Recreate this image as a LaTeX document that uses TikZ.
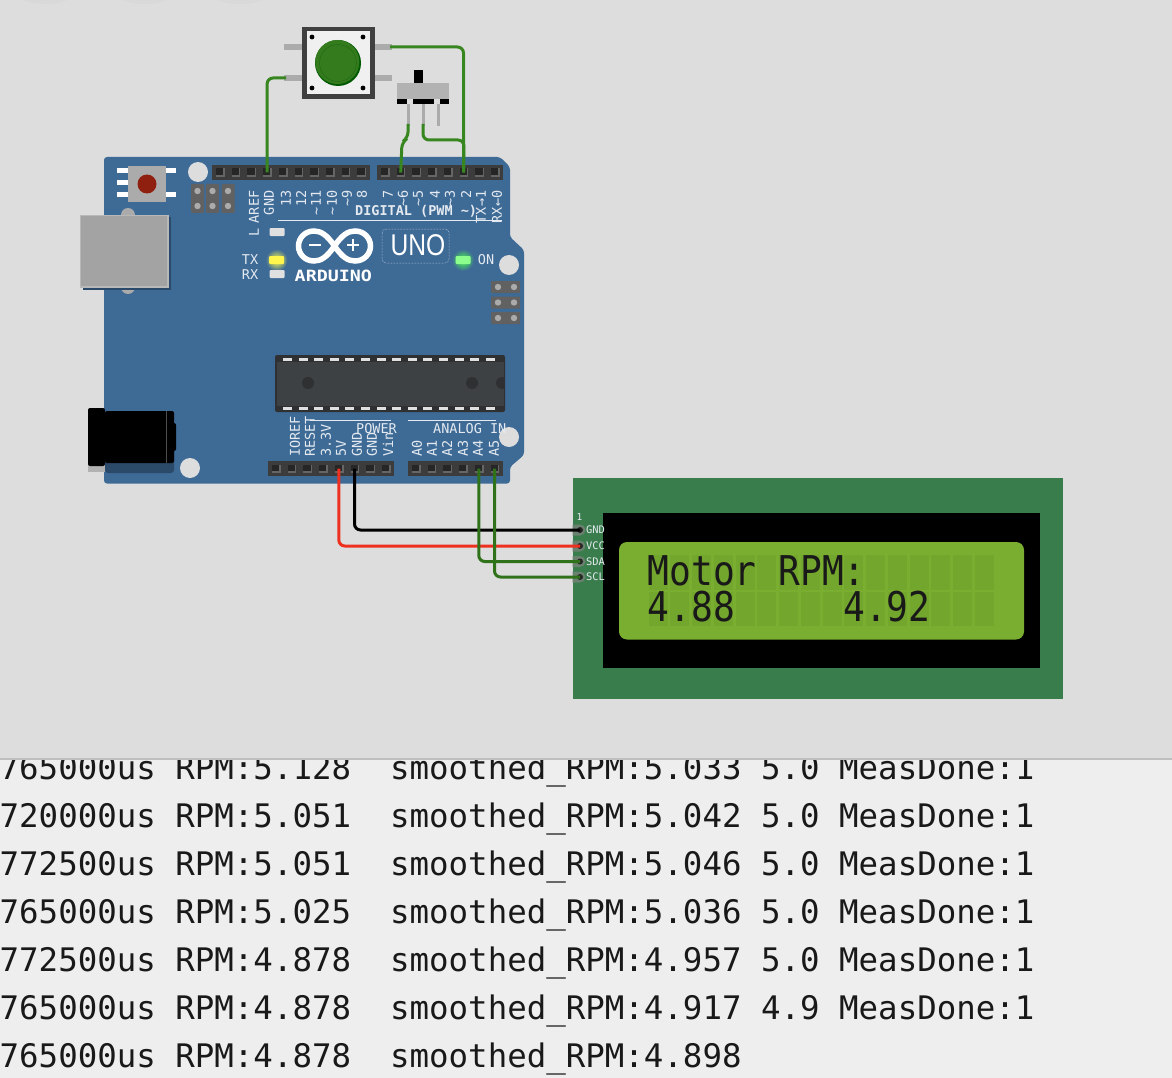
\documentclass[tikz,border=0pt]{standalone}
\usepackage{fontspec}
\setmonofont{DejaVu Sans Mono}
\setsansfont{Liberation Sans}
\definecolor{studio}{HTML}{DDDDDD}
\definecolor{console}{HTML}{EEEEEE}
\definecolor{pcb}{HTML}{3E6A96}
\definecolor{hdr}{HTML}{3C3C3C}
\definecolor{wiregreen}{HTML}{38861F}
\definecolor{wirered}{HTML}{EE3020}
\definecolor{lcdgreen}{HTML}{3A7D4C}
\definecolor{lcdlight}{HTML}{7AAE30}
\definecolor{lcdcell}{HTML}{73A62D}
\definecolor{silk}{HTML}{E4EAF0}
\definecolor{lead}{HTML}{ABABAB}
\definecolor{chipbody}{HTML}{3E4143}
\definecolor{chipedge}{HTML}{2E3032}
\definecolor{resetred}{HTML}{8F1F0F}
\newcommand{\tld}{\textasciitilde}
\tikzset{
  wire/.style={line width=3pt,wiregreen,rounded corners=6pt},
  silktext/.style={inner sep=0pt,text=silk,font=\ttfamily\fontsize{13.5}{13.5}\selectfont},
  toplabel/.style={silktext,rotate=90,anchor=east},
  botlabel/.style={silktext,rotate=90,anchor=west},
  pinlabel/.style={inner sep=0pt,anchor=west,text=silk,font=\ttfamily\fontsize{10.4}{10.4}\selectfont},
  hole/.style={fill=studio,draw=none},
  logtext/.style={inner sep=0pt,anchor=base west,text=black!90,font=\ttfamily\fontsize{32.43}{32.43}\selectfont},
  lcdtext/.style={inner sep=0pt,anchor=base west,xscale=0.883,text=black!90,font=\ttfamily\fontsize{41}{41}\selectfont},
}
\begin{document}
\begin{tikzpicture}[x=1pt,y=-1pt]
  \useasboundingbox (0,0) rectangle (1172,1078);

  % Serial monitor
  \fill[console] (0,755) rectangle (1172,1078);
  \foreach \nr/\yy/\txt in {
    0/779/765000us RPM:5.128~~smoothed\_RPM:5.033 5.0 MeasDone:1,
    1/827/720000us RPM:5.051~~smoothed\_RPM:5.042 5.0 MeasDone:1,
    2/875/772500us RPM:5.051~~smoothed\_RPM:5.046 5.0 MeasDone:1,
    3/923/765000us RPM:5.025~~smoothed\_RPM:5.036 5.0 MeasDone:1,
    4/971/772500us RPM:4.878~~smoothed\_RPM:4.957 5.0 MeasDone:1,
    5/1019/765000us RPM:4.878~~smoothed\_RPM:4.917 4.9 MeasDone:1,
    6/1067/765000us RPM:4.878~~smoothed\_RPM:4.898}
    \node[logtext] (log\nr) at (-0.5,\yy) {\txt};

  % Simulator area
  \fill[studio] (0,0) rectangle (1172,759);
  \foreach \xx in {45,145,240}
    \fill[black!15] (\xx,-3) ellipse (24 and 7);
  \draw[black!25,line width=1.2pt] (0,759) -- (1172,759);

  % Board
  \fill[pcb,rounded corners=3pt] (104,157) -- (500,157) -- (510,167) -- (510,237) -- (524,250)
    -- (524,455) -- (510,467) -- (510,483.5) -- (104,483.5) -- cycle;
  \foreach \xx/\yy in {198/172,509/265,190/468,509/437}
    \fill[hole] (\xx,\yy) circle (10);

  % USB socket
  \fill[lead] (128,215) circle (7) (128,287) circle (7);
  \fill[black!30!pcb] (83,217) rectangle (171,290);
  \fill[black!28] (80,215) rectangle (168.5,287.5);
  \fill[black!36] (81,216) rectangle (167,286);

  % Reset button
  \foreach \yy in {171,183,195}
    \draw[white,line width=5pt] (117,\yy) -- (128,\yy);
  \foreach \yy in {171,195}
    \draw[white,line width=5pt] (166,\yy) -- (176,\yy);
  \fill[lead] (128,166) rectangle (166,202);
  \fill[resetred] (147,184) circle (9.5);

  % ICSP pins
  \foreach \xx in {197.5,212.5,228}{
    \fill[black!62,rounded corners=1pt] (\xx-6.5,184) rectangle (\xx+6.5,213);
    \fill[lead] (\xx,191) circle (3.2) (\xx,206) circle (3.2);
  }
  \foreach \yy in {287,302.5,318}{
    \fill[black!62,rounded corners=1pt] (491,\yy-6) rectangle (520,\yy+6);
    \fill[lead] (498,\yy) circle (3.2) (514,\yy) circle (3.2);
  }

  % Power jack
  \fill[black!30!pcb,rounded corners=3pt] (105,440) rectangle (174,473);
  \fill[black!30] (88,450) rectangle (105,472);
  \fill[black,rounded corners=2pt] (88,408) rectangle (105,466);
  \fill[black,rounded corners=2pt] (105,411) rectangle (174,463);
  \fill[black,rounded corners=2pt] (170,423) rectangle (176,451);
  \draw[black!70,line width=0.6pt] (166,411) -- (166,463);

  % Chip
  \fill[chipedge,rounded corners=2pt] (275,355) rectangle (505,412);
  \fill[chipbody] (277,362) rectangle (504,406);
  \foreach \nr in {0,...,13}{
    \fill[black!12] (283+\nr*15.6,357.5) rectangle +(9,3.5);
    \fill[black!12] (283+\nr*15.6,406.5) rectangle +(9,3.5);
  }
  \begin{scope}
    \clip (277,362) rectangle (504,406);
    \foreach \xx in {308,472,502}
      \fill[chipedge] (\xx,383) circle (6);
  \end{scope}

  % Headers
  \foreach \nm/\xa/\ya/\cnt/\first in {a/212/165/10/220,b/377/165/8/385,c/268/461/8/276,d/408/461/6/416}{
    \pgfmathsetmacro{\last}{int(\cnt-1)}
    \fill[hdr] (\xa,\ya) rectangle (\xa+\cnt*15.75,\ya+15);
    \foreach \nr in {0,...,\last}{
      \fill[black!85] (\first+\nr*15.7-4,\ya+3.5) rectangle +(8,8);
      \draw[black!60,line width=1.4pt] (\first+\nr*15.7-4,\ya+11) -- +(8,0) -- +(8,-7.5);
      \coordinate (\nm\nr) at (\first+\nr*15.7,\ya+7.5);
    }
  }

  % Digital labels
  \foreach \xx/\lab in {254/AREF,269/GND,286/13,301/12,316/\tld 11,332/\tld 10,347/\tld 9,362/8,
      388/7,403/\tld 6,418/\tld 5,435/4,450/\tld 3,466/2,481/TX→1,497/RX←0}
    \node[toplabel] (dig\xx) at (\xx,190.5) {\lab};
  \node[silktext,anchor=base west] (digital) at (355,215.5) {\textbf{DIGITAL (PWM \tld)}};
  \draw[silk,line width=1pt] (278,220.7) -- (502,220.7);

  % Power and analog labels
  \foreach \xx/\lab in {295/IOREF,310/RESET,326/3.3V,341/5V,357/GND,372/GND,388/Vin,
      417/A0,432/A1,447/A2,463/A3,478/A4,494/A5}
    \node[botlabel] (low\xx) at (\xx,457) {\lab};
  \node[silktext,anchor=base west] (power) at (356,433) {POWER};
  \node[silktext,anchor=base west] (analog) at (433,433) {ANALOG IN};
  \draw[silk,line width=1pt] (310,420) -- (391,420);
  \draw[silk,line width=1pt] (408,420) -- (496,420);

  % Status leds
  \node[silktext,rotate=90] (ledL) at (254,232) {L};
  \node[silktext] (ledTX) at (250,259.5) {TX};
  \node[silktext] (ledRX) at (250,274.5) {RX};
  \node[silktext] (ledON) at (486,260) {ON};
  \shade[inner color=yellow!70,outer color=pcb] (276.5,260) circle (11);
  \shade[inner color=green!70!white,outer color=pcb] (463,260) circle (11);
  \foreach \xx/\yy/\col in {277/232/black!12,276.5/260/yellow!70!white,277/274/black!12,463/260/green!45!white}
    \fill[\col,rounded corners=1pt] (\xx-7.5,\yy-4) rectangle (\xx+7.5,\yy+4);

  % Logo
  \draw[white,line width=5.5pt] (334.5,246) .. controls (327,235) and (321,231) .. (314,231)
    .. controls (305,231) and (298.5,238) .. (298.5,246)
    .. controls (298.5,254) and (305,261) .. (314,261)
    .. controls (321,261) and (327,257) .. (334.5,246)
    .. controls (342,235) and (348,231) .. (355,231)
    .. controls (364,231) and (370.5,238) .. (370.5,246)
    .. controls (370.5,254) and (364,261) .. (355,261)
    .. controls (348,261) and (342,257) .. (334.5,246) -- cycle;
  \draw[white,line width=2.8pt] (309,245) -- (321,245);
  \draw[white,line width=2.8pt] (347,245) -- (359,245) (353,239) -- (353,251);
  \node[inner sep=0pt,anchor=base west,text=white,xscale=1.18,font=\ttfamily\bfseries\fontsize{15.5}{15.5}\selectfont] (arduino) at (294.5,281) {ARDUINO};
  \draw[silk,densely dotted,line width=0.5pt,rounded corners=4pt] (382,229) rectangle (449,263);
  \node[inner sep=0pt,text=white,xscale=0.82,font=\sffamily\fontsize{30}{30}\selectfont] (uno) at (418,245.5) {UNO};

  % Push button
  \foreach \yy in {47,78}{
    \draw[lead,line width=6pt] (284,\yy) -- (302,\yy);
    \draw[lead,line width=6pt] (374,\yy) -- (392,\yy);
  }
  \coordinate (btnA) at (286,78);
  \coordinate (btnB) at (390,47);
  \fill[black!75] (302,27) rectangle (374.5,99);
  \fill[black!6] (306.5,31.5) rectangle (370,94.5);
  \foreach \xx/\yy in {312/37,363/37,312/88,363/88}
    \fill[black] (\xx,\yy) circle (2.4);
  \fill[green!35!black] (338,63) circle (23);
  \fill[wiregreen!92!black] (337.3,62) circle (22);
  \draw[green!30!black,opacity=0.35,line width=0.5pt] (338,63) circle (18.5);

  % Slide switch
  \fill[black] (414,70) rectangle (423,83);
  \fill[black!30] (397,83) rectangle (449,99);
  \fill[black] (397,99) rectangle (407,104);
  \fill[black] (413,99) rectangle (434,104);
  \fill[black] (440,99) rectangle (449,104);
  \foreach \xx in {408,423,438}
    \draw[lead,line width=3pt] (\xx,104) -- (\xx,126);
  \coordinate (swA) at (408,124);
  \coordinate (swB) at (423,124);

  % LCD
  \fill[lcdgreen] (572.7,478) rectangle (1063,699);
  \fill[black] (603,513) rectangle (1040,668);
  \fill[lcdlight,rounded corners=8pt] (619,542) rectangle (1024,639.5);
  \foreach \cc in {0,...,15}{
    \fill[lcdcell] (648.7+\cc*21.75,555) rectangle +(18.8,34.5);
    \fill[lcdcell] (648.7+\cc*21.75,591.7) rectangle +(18.8,34.5);
  }
  \node[lcdtext] (lcdA) at (647.5,585.5) {Motor RPM:};
  \node[lcdtext] (lcdB) at (647.5,621.5) {4.88};
  \node[lcdtext] (lcdC) at (843.2,621.5) {4.92};
  \node[inner sep=0pt,text=silk,font=\ttfamily\fontsize{9.5}{9.5}\selectfont] (lcdOne) at (579.5,517) {1};
  \foreach \nm/\yy in {GND/530,VCC/546,SDA/561.5,SCL/577}{
    \fill[black!30!lcdgreen!50!lead] (572.7,\yy-5.5) -- (580,\yy-5.5) arc (-90:90:5.5) -- (572.7,\yy+5.5) -- cycle;
    \fill[black!85] (580,\yy) circle (3);
    \coordinate (lcd\nm) at (580,\yy);
    \node[pinlabel] (txt\nm) at (586,\yy) {\nm};
  }

  % Wires
  \draw[wire] (btnA) -| (a3);
  \draw[wire] (btnB) -| (b5);
  \draw[wire] (swA) -- (408,138) -- (402,142) -- (b1);
  \draw[wire] (swB) |- (464,140) -- (b5);
  \draw[wire,black] (c5) |- (lcdGND);
  \draw[wire,wirered] (c4) |- (lcdVCC);
  \draw[wire,wiregreen!85!black] (d4) |- (lcdSDA);
  \draw[wire,wiregreen!85!black] (d5) |- (lcdSCL);
\end{tikzpicture}
\end{document}
